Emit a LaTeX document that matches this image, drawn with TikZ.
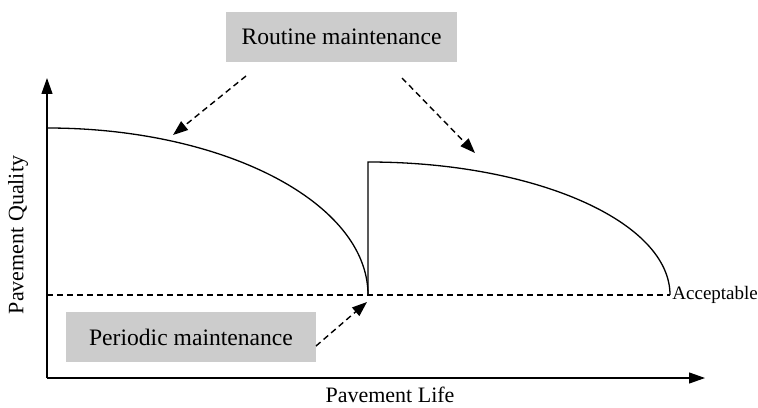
\documentclass[tikz,border=0pt]{standalone}
\usepackage{fontspec}
\setmainfont{Liberation Serif}
\usepackage{xcolor}
\definecolor{boxgray}{RGB}{204,204,204}
\usepackage{tikz}
\usetikzlibrary{arrows.meta,positioning}

\begin{document}
\begin{tikzpicture}[
  x=0.5pt,y=0.5pt,
  mbox/.style={rectangle,fill=boxgray,minimum width=#1,minimum height=25pt,inner sep=0pt,font=\fontsize{11.8}{14}\selectfont},
  axis/.style={-{Triangle[length=8pt,width=5.5pt]},line width=0.6pt},
  arrow/.style={-{Triangle[length=7.5pt,width=5.5pt]},dashed,dash pattern=on 3pt off 2pt,line width=0.7pt},
  curve/.style={line width=0.65pt},
  lbl/.style={font=\fontsize{11}{13}\selectfont}
]
  \useasboundingbox (0,0) rectangle (758,407);

  % Axes
  \coordinate (o) at (47,29);
  \coordinate (ytip) at (47,329);
  \coordinate (xtip) at (705,29);
  \draw[axis] (o) -- (ytip);
  \draw[axis] (o) -- (xtip);
  \node[lbl,rotate=90] (qual) at (18,172) {Pavement Quality};
  \node[lbl] (life) at (390,12) {Pavement Life};

  % Acceptable level
  \coordinate (acc0) at (47,112);
  \coordinate (acc1) at (670,112);
  \draw[dashed,dash pattern=on 3pt off 2pt,line width=0.65pt] (acc0) -- (acc1);
  \node[anchor=west,inner sep=1pt,font=\fontsize{9.5}{11}\selectfont] (acc) at (acc1) {Acceptable};

  % Quality curves
  \coordinate (c1s) at (47,279);
  \coordinate (c1e) at (368,112);
  \coordinate (c2s) at (368,245);
  \draw[curve] (c1s) arc[start angle=90,end angle=0,x radius=321,y radius=167];
  \draw[curve] (c1e) -- (c2s) arc[start angle=90,end angle=0,x radius=302,y radius=133];

  % Maintenance boxes
  \node[mbox=115.5pt] (rtn) at (341.5,370) {Routine maintenance};
  \node[mbox=125pt] (prd) at (191,70) {Periodic maintenance};

  % Arrows
  \coordinate (r1) at (246,331);
  \coordinate (r2) at (402,329);
  \coordinate (p1) at (316,61);
  \coordinate (t1) at (173,272);
  \coordinate (t2) at (475,254);
  \coordinate (t3) at (367,105);
  \draw[arrow] (r1) -- (t1);
  \draw[arrow] (r2) -- (t2);
  \draw[arrow] (p1) -- (t3);
\end{tikzpicture}
\end{document}
